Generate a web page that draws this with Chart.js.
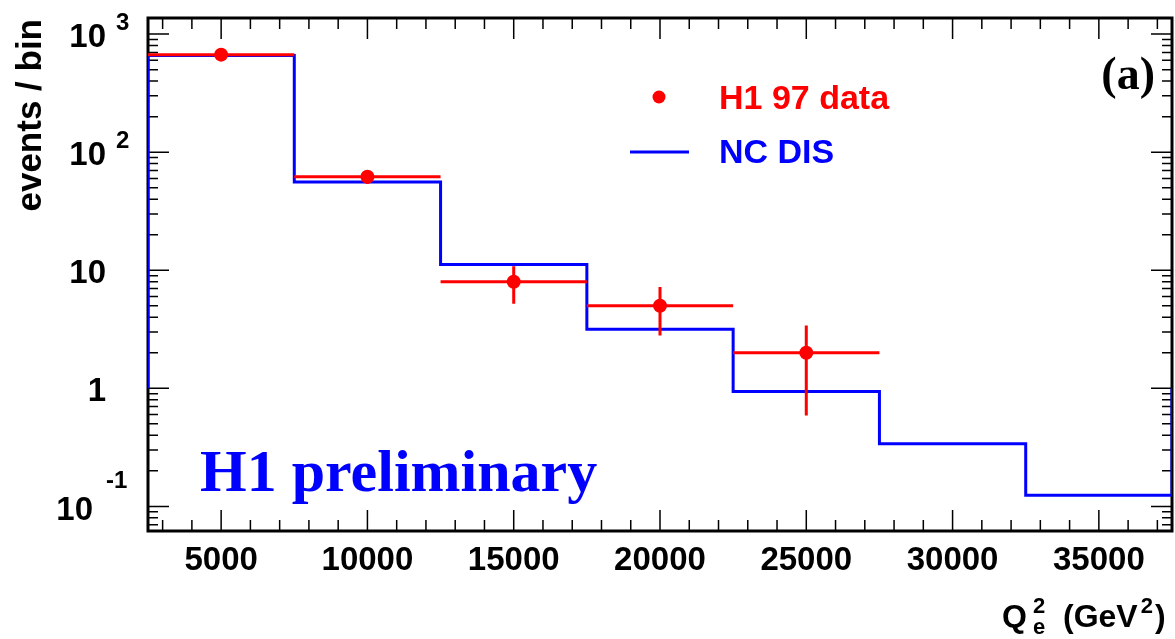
<!DOCTYPE html>
<html>
<head>
<meta charset="utf-8">
<script src="https://cdn.jsdelivr.net/npm/chart.js@4"></script>
<style>
  body { margin: 0; background: #fff; }
  #wrap { width: 1175px; height: 639px; }
</style>
</head>
<body>
<div id="wrap"><canvas id="chart" width="1175" height="639"></canvas></div>
<script>
// Q2 bin edges and the NC DIS expectation per bin
const mcEdges = [2500, 7500, 12500, 17500, 22500, 27500, 32500, 37500];
const mcCounts = [660, 56, 11.2, 3.16, 0.94, 0.34, 0.124];
const mcEdgeFloor = 1; // outer vertical edges of the histogram stop at 1

// H1 97 data points
const dataQ2 = [5000, 10000, 15000, 20000, 25000];
const dataCounts = [670, 62, 8, 5, 2];
const dataErrLo = [26, 7.9, 2.8, 2.2, 1.41];
const dataErrHi = [26, 7.9, 2.8, 2.2, 1.41];
const dataHalfBin = 2500;

// axes
const xMin = 2500, xMax = 37500;
const yMin = 0.0619, yMax = 1369;
const xMajorTicks = [5000, 10000, 15000, 20000, 25000, 30000, 35000];
const xMinorStep = 1000;
const yDecades = [0.1, 1, 10, 100, 1000];
const yTickBase = ['10', '1', '10', '10', '10'];
const yTickExp = ['-1', '', '', '2', '3'];

const RED = '#ff0000';
const BLUE = '#0000ff';
const SANS = '"Liberation Sans", Arial, Helvetica, sans-serif';
const SERIF = '"Liberation Serif", "Times New Roman", Times, serif';

// histogram outline points
const mcPoints = [{ x: mcEdges[0], y: mcEdgeFloor }];
mcCounts.forEach((v, i) => mcPoints.push({ x: mcEdges[i], y: v }));
mcPoints.push({ x: mcEdges[mcEdges.length - 1], y: mcCounts[mcCounts.length - 1] });
mcPoints.push({ x: mcEdges[mcEdges.length - 1], y: mcEdgeFloor });

const dataPoints = dataQ2.map((q, i) => ({ x: q, y: dataCounts[i] }));

const framePlugin = {
  id: 'rootFrame',
  beforeDatasetsDraw(chart) {
    const { ctx, chartArea: a, scales: { x, y } } = chart;
    ctx.save();
    // ticks
    ctx.strokeStyle = '#000';
    ctx.lineWidth = 1.5;
    ctx.beginPath();
    for (let v = xMin + 500; v < xMax; v += xMinorStep) {
      const px = x.getPixelForValue(v);
      const len = xMajorTicks.includes(v) ? 21 : 11;
      ctx.moveTo(px, a.bottom); ctx.lineTo(px, a.bottom - len);
      ctx.moveTo(px, a.top); ctx.lineTo(px, a.top + len);
    }
    for (let d = 0.01; d <= 1000; d *= 10) {
      for (let m = 1; m <= 9; m++) {
        const v = d * m;
        if (v < yMin || v > yMax) continue;
        const py = y.getPixelForValue(v);
        const len = m === 1 ? 21 : 10;
        ctx.moveTo(a.left, py); ctx.lineTo(a.left + len, py);
        ctx.moveTo(a.right, py); ctx.lineTo(a.right - len, py);
      }
    }
    ctx.stroke();
    // frame
    ctx.lineWidth = 3;
    ctx.strokeRect(a.left, a.top, a.right - a.left, a.bottom - a.top);
    ctx.restore();
  },
  afterDatasetsDraw(chart) {
    const { ctx, scales: { x, y } } = chart;
    ctx.save();
    ctx.strokeStyle = RED;
    ctx.lineWidth = 3;
    ctx.beginPath();
    dataQ2.forEach((q, i) => {
      const py = y.getPixelForValue(dataCounts[i]);
      ctx.moveTo(x.getPixelForValue(q - dataHalfBin), py);
      ctx.lineTo(x.getPixelForValue(q + dataHalfBin), py);
      const px = x.getPixelForValue(q);
      ctx.moveTo(px, y.getPixelForValue(dataCounts[i] - dataErrLo[i]));
      ctx.lineTo(px, y.getPixelForValue(dataCounts[i] + dataErrHi[i]));
    });
    ctx.stroke();
    ctx.fillStyle = RED;
    dataPoints.forEach(p => {
      ctx.beginPath();
      ctx.arc(x.getPixelForValue(p.x), y.getPixelForValue(p.y), 7, 0, Math.PI * 2);
      ctx.fill();
    });
    ctx.restore();
  },
  afterDraw(chart) {
    const { ctx, scales: { x, y } } = chart;
    ctx.save();
    ctx.fillStyle = '#000';
    ctx.textBaseline = 'alphabetic';

    // x tick labels
    ctx.font = 'bold 33px ' + SANS;
    ctx.textAlign = 'center';
    xMajorTicks.forEach(v => ctx.fillText(String(v), x.getPixelForValue(v), 570));

    // y tick labels with exponents
    yDecades.forEach((v, i) => {
      const py = y.getPixelForValue(v);
      const exp = yTickExp[i];
      ctx.font = 'bold 33px ' + SANS;
      ctx.textAlign = 'right';
      if (exp === '-1') {
        ctx.fillText(yTickBase[i], 93, py + 14);
        ctx.font = 'bold 24px ' + SANS;
        ctx.textAlign = 'left';
        ctx.fillText(exp, 106, py - 18);
      } else {
        ctx.fillText(yTickBase[i], 106, py + 13);
        if (exp) {
          ctx.font = 'bold 24px ' + SANS;
          ctx.textAlign = 'left';
          ctx.fillText(exp, 116, py - 4);
        }
      }
    });

    // y title
    ctx.save();
    ctx.translate(41, 19);
    ctx.rotate(-Math.PI / 2);
    ctx.font = 'bold 35px ' + SANS;
    ctx.textAlign = 'right';
    ctx.fillText('events / bin', 0, 0);
    ctx.restore();

    // x title: Q_e^2  (GeV^2)
    ctx.textAlign = 'left';
    ctx.font = 'bold 32px ' + SANS;
    ctx.fillText('Q', 1002, 627);
    ctx.font = 'bold 22px ' + SANS;
    ctx.fillText('2', 1033, 613);
    ctx.fillText('e', 1033, 634);
    ctx.font = 'bold 32px ' + SANS;
    ctx.fillText('(GeV', 1063, 627);
    const gw = ctx.measureText('(GeV').width;
    ctx.font = 'bold 22px ' + SANS;
    ctx.fillText('2', 1063 + gw + 3, 613);
    const tw = ctx.measureText('2').width;
    ctx.font = 'bold 32px ' + SANS;
    ctx.fillText(')', 1063 + gw + tw + 5, 627);

    // panel label
    ctx.font = 'bold 46px ' + SERIF;
    ctx.textAlign = 'right';
    ctx.fillText('(a)', 1155, 89);

    // H1 preliminary
    ctx.fillStyle = BLUE;
    ctx.font = 'bold 60px ' + SERIF;
    ctx.textAlign = 'left';
    ctx.fillText('H1 preliminary', 200, 491);

    // legend
    ctx.fillStyle = RED;
    ctx.beginPath();
    ctx.arc(659, 97, 6.5, 0, Math.PI * 2);
    ctx.fill();
    ctx.font = 'bold 34px ' + SANS;
    ctx.fillText('H1 97 data', 719, 109);
    ctx.strokeStyle = BLUE;
    ctx.lineWidth = 3;
    ctx.beginPath();
    ctx.moveTo(630, 152); ctx.lineTo(689, 152);
    ctx.stroke();
    ctx.fillStyle = BLUE;
    ctx.fillText('NC DIS', 719, 163);
    ctx.restore();
  }
};

new Chart(document.getElementById('chart').getContext('2d'), {
  type: 'scatter',
  data: {
    datasets: [
      {
        label: 'H1 97 data',
        data: dataPoints,
        pointRadius: 0,
        showLine: false
      },
      {
        label: 'NC DIS',
        type: 'line',
        data: mcPoints,
        stepped: true,
        borderColor: BLUE,
        borderWidth: 3,
        pointRadius: 0,
        fill: false,
        tension: 0
      }
    ]
  },
  options: {
    responsive: false,
    animation: false,
    layout: { padding: { left: 148, right: 3, top: 18, bottom: 108 } },
    plugins: { legend: { display: false }, tooltip: { enabled: false } },
    scales: {
      x: { type: 'linear', min: xMin, max: xMax, display: false },
      y: { type: 'logarithmic', min: yMin, max: yMax, display: false }
    }
  },
  plugins: [framePlugin]
});
</script>
</body>
</html>
